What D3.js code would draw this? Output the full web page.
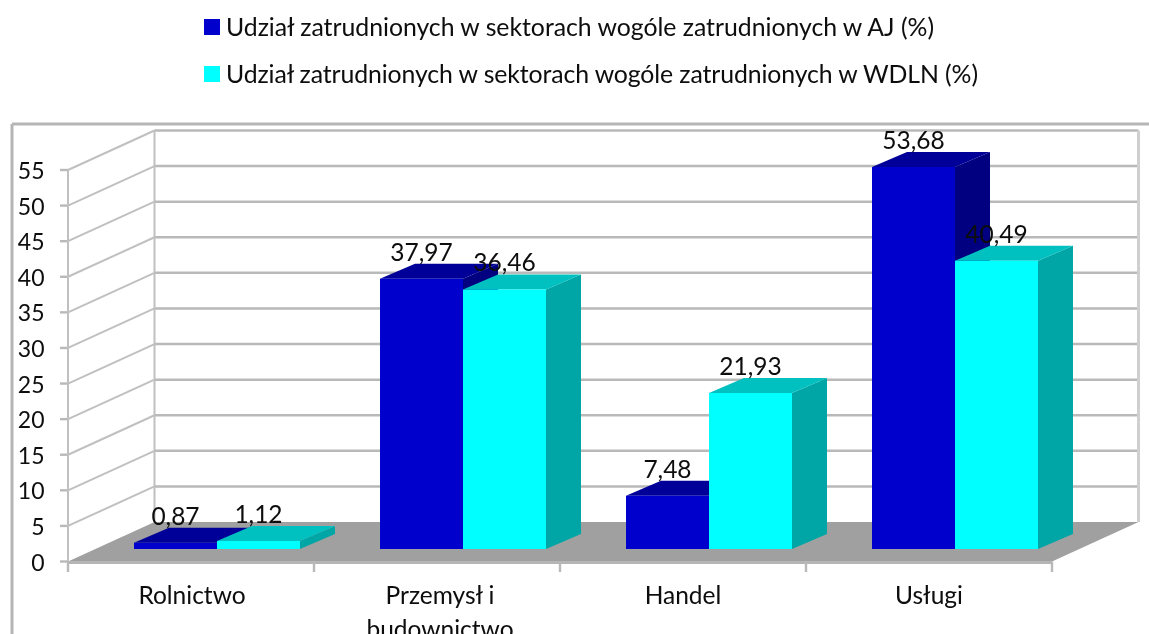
<!DOCTYPE html>
<html><head><meta charset="utf-8">
<script src="https://cdn.jsdelivr.net/npm/d3@7/dist/d3.min.js"></script>
<style>html,body{margin:0;background:#fff}svg{display:block}text{font-family:Lato,"Noto Sans",sans-serif;fill:#0a0a0a;filter:url(#soft)}</style>
</head><body><svg id="c" width="1149" height="634"><defs><filter id="soft" x="-5%" y="-20%" width="110%" height="140%"><feGaussianBlur stdDeviation="0.45"/></filter></defs></svg>
<script>
const categories = ["Rolnictwo", ["Przemysł i", "budownictwo"], "Handel", "Usługi"];
const categoryKeys = ["Rolnictwo", "Przemysł i budownictwo", "Handel", "Usługi"];
const seriesNames = ["Udział zatrudnionych w sektorach wogóle zatrudnionych w AJ (%)", "Udział zatrudnionych w sektorach wogóle zatrudnionych w WDLN (%)"];
const valuesAJ = [0.87, 37.97, 7.48, 53.68];
const valuesWDLN = [1.12, 36.46, 21.93, 40.49];
const labelsAJ = ["0,87", "37,97", "7,48", "53,68"];
const labelsWDLN = ["1,12", "36,46", "21,93", "40,49"];
const yTicks = [0,5,10,15,20,25,30,35,40,45,50,55];
const frontColors = ["#0000cc", "#00ffff"], topColors = ["#000099", "#00c0c0"], sideColors = ["#000080", "#00a6a6"];

const svg = d3.select("#c");
const grid = "#b9b9b9";
const y = d3.scaleLinear().domain([0,55]).range([561.5,170]);
const x = d3.scaleBand().domain(categoryKeys).range([68,1052]).paddingInner(0).paddingOuter(0);
const inner = d3.scaleBand().domain([0,1]).range([40, x.bandwidth()-40]);
const wall = {dx:86.5, dy:-39.5};
const bar = {dx:26, dy:-12.5, ddx:35, ddy:-15};
const line = (a,b,w,c)=>svg.append("line").attr("x1",a[0]).attr("y1",a[1]).attr("x2",b[0]).attr("y2",b[1]).attr("stroke",c||grid).attr("stroke-width",w);

// frame
line([12,124],[1149,124],3,"#b5b5b5");
line([12,124],[12,634],3,"#b5b5b5");

// walls and gridlines
yTicks.forEach(t=>{
  const yy=y(t);
  if(t>0){
    line([68,yy],[68+wall.dx,yy+wall.dy],2,"#c0c0c0");
    line([68+wall.dx,yy+wall.dy],[1052+wall.dx,yy+wall.dy],2.5);
  }
  line([60,yy],[68,yy],2.4);
});
line([68,y(0)],[68,y(55)],2,"#c0c0c0");
line([68+wall.dx,y(0)+wall.dy],[68+wall.dx,y(55)+wall.dy],2,"#c0c0c0");
line([1052+wall.dx,y(0)+wall.dy],[1052+wall.dx,y(55)+wall.dy],3,"#cfcfcf");

// floor
svg.append("path").attr("d",d3.line()([[68,y(0)],[68+wall.dx,y(0)+wall.dy],[1052+wall.dx,y(0)+wall.dy],[1052,y(0)]])+"Z").attr("fill","#a0a0a0");
line([68,y(0)+1],[1052,y(0)+1],3,"#b5b5b5");
x.domain().forEach(k=>line([x(k),y(0)],[x(k),572],2.4));
line([1052,y(0)],[1052,572],2.4);

// bars
const yBase = v=>y(v)+bar.dy;
[valuesAJ,valuesWDLN].forEach((vals,s)=>{
  const g=svg.append("g");
  vals.forEach((v,i)=>{
    const x0=x(categoryKeys[i])+inner(s)+bar.dx, w=inner.bandwidth(), t=yBase(v), b=yBase(0);
    const poly=(pts,f)=>g.append("polygon").attr("points",pts.join(" ")).attr("fill",f);
    poly([[x0+w,t],[x0+w+bar.ddx,t+bar.ddy],[x0+w+bar.ddx,b+bar.ddy],[x0+w,b]],sideColors[s]);
    poly([[x0,t],[x0+bar.ddx,t+bar.ddy],[x0+w+bar.ddx,t+bar.ddy],[x0+w,t]],topColors[s]);
    poly([[x0,t],[x0+w,t],[x0+w,b],[x0,b]],frontColors[s]);
  });
});

// data labels
[[valuesAJ,labelsAJ],[valuesWDLN,labelsWDLN]].forEach(([vals,labs],s)=>{
  vals.forEach((v,i)=>{
    svg.append("text").attr("x",x(categoryKeys[i])+inner(s)+bar.dx+inner.bandwidth()/2).attr("y",yBase(v)+bar.ddy-3)
      .attr("text-anchor","middle").attr("font-size",24.5).text(labs[i]);
  });
});

// axis labels
yTicks.forEach(t=>svg.append("text").attr("x",44.5).attr("y",y(t)+9).attr("text-anchor","end").attr("font-size",23).text(t));
categories.forEach((c,i)=>{
  const lines=Array.isArray(c)?c:[c];
  const cx=[192,440,683,929][i];
  lines.forEach((l,j)=>svg.append("text").attr("x",cx).attr("y",604+j*34).attr("text-anchor","middle").attr("font-size",24.5).text(l));
});

// legend
const legendWidths = [708, 752];
seriesNames.forEach((n,i)=>{
  const ly=[19,66][i];
  svg.append("rect").attr("x",204).attr("y",ly).attr("width",16).attr("height",16).attr("fill",frontColors[i]);
  svg.append("text").attr("x",226).attr("y",ly+16.5).attr("font-size",24.8)
    .attr("textLength",legendWidths[i]).attr("lengthAdjust","spacing").text(n);
});
</script></body></html>
